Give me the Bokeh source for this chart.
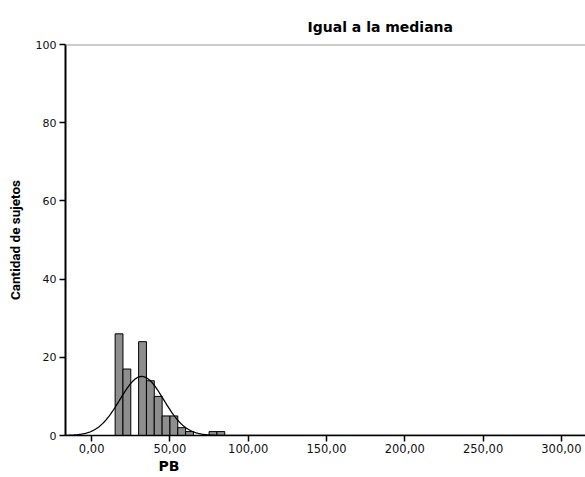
import numpy as np
from bokeh.plotting import figure
from bokeh.models import Range1d, FixedTicker, Span, Title, ColumnDataSource
from bokeh.embed import file_html
from bokeh.resources import INLINE

# Histogram of PB (subjects equal to the median)
bin_left = [15, 20, 30, 35, 40, 45, 50, 55, 60, 75, 80]
bin_right = [20, 25, 35, 40, 45, 50, 55, 60, 65, 80, 85]
counts = [26, 17, 24, 14, 10, 5, 5, 2, 1, 1, 1]

# Fitted normal curve parameters
curve_mean = 32.0
curve_sd = 14.0
bin_width = 5.0

x_ticks = [0, 50, 100, 150, 200, 250, 300]
x_tick_labels = ["0,00", "50,00", "100,00", "150,00", "200,00", "250,00", "300,00"]
y_ticks = [0, 20, 40, 60, 80, 100]

title_text = "Igual a la mediana"
x_label = "PB"
y_label = "Cantidad de sujetos"

TICK_FONT = "DejaVu Sans"
BOLD_FONT = "DejaVu Sans"

p = figure(width=585, height=477, output_backend="svg", toolbar_location=None,
           x_range=Range1d(-16.7, 315.4), y_range=Range1d(0, 100),
           min_border_left=65, min_border_right=0, min_border_top=44,
           min_border_bottom=42)
p.outline_line_color = None
p.xgrid.visible = False
p.ygrid.visible = False
p.background_fill_color = "white"
p.border_fill_color = "white"

# bars
src = ColumnDataSource(dict(left=bin_left, right=bin_right, top=counts,
                            bottom=[0] * len(counts)))
p.quad(left="left", right="right", top="top", bottom="bottom", source=src,
       fill_color="#8e8e8e", line_color="black", line_width=1)

# normal curve scaled to counts
n_total = sum(counts)
xs = np.linspace(-16.7, 315.4, 800)
ys = n_total * bin_width / (curve_sd * np.sqrt(2 * np.pi)) * \
    np.exp(-0.5 * ((xs - curve_mean) / curve_sd) ** 2)
p.line(xs, ys, line_color="black", line_width=1.3)

# top frame line
p.add_layout(Span(location=100, dimension="width", line_color="#9a9a9a",
                  line_width=2))

# axes
xa = p.xaxis[0]
xa.ticker = FixedTicker(ticks=x_ticks)
xa.major_label_overrides = {t: l for t, l in zip(x_ticks, x_tick_labels)}
xa.minor_tick_line_color = None
xa.major_tick_in = 0
xa.major_tick_out = 6
xa.major_tick_line_color = "black"
xa.major_tick_line_width = 1.5
xa.axis_line_color = "black"
xa.axis_line_width = 1.5
xa.major_label_text_font = TICK_FONT
xa.major_label_text_font_size = "11.5px"
xa.major_label_text_color = "#111111"
xa.major_label_standoff = 2

ya = p.yaxis[0]
ya.ticker = FixedTicker(ticks=y_ticks)
ya.minor_tick_line_color = None
ya.major_tick_in = 0
ya.major_tick_out = 6
ya.major_tick_line_color = "black"
ya.major_tick_line_width = 1.5
ya.axis_line_color = "black"
ya.axis_line_width = 2
ya.major_label_text_font = TICK_FONT
ya.major_label_text_font_size = "11px"
ya.major_label_text_color = "#111111"
ya.major_label_standoff = 3
ya.axis_label = y_label
ya.axis_label_text_font = "Roboto"
ya.axis_label_text_font_style = "bold"
ya.axis_label_text_font_size = "13.5px"
ya.axis_label_text_color = "black"
ya.axis_label_standoff = 10

# title above the frame, left-aligned and pushed right
p.title = Title(text=title_text, align="left", offset=242,
                text_font=BOLD_FONT, text_font_style="bold",
                text_font_size="14px", text_color="black", standoff=20)

# x-axis name as a title below the axis
p.add_layout(Title(text=x_label, align="left", offset=93,
                   text_font=BOLD_FONT, text_font_style="bold",
                   text_font_size="14px", text_color="black", standoff=0),
             "below")

open("out.html", "w").write(file_html(p, INLINE))
